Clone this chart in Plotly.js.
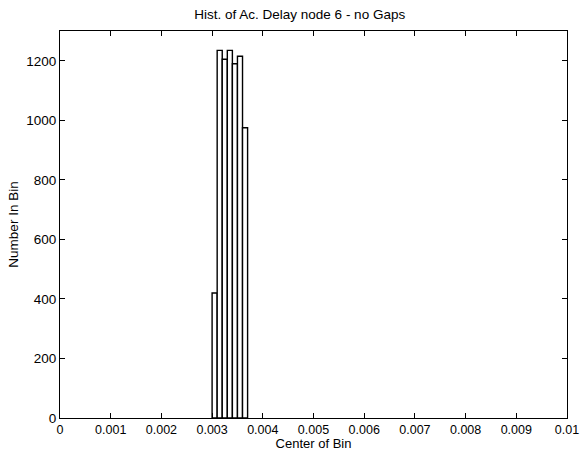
<!DOCTYPE html>
<html>
<head>
<meta charset="utf-8">
<script src="https://cdn.plot.ly/plotly-3.0.1.min.js"></script>
<style>html,body{margin:0;padding:0;background:#fff;}#chart{width:582px;height:451px;}</style>
</head>
<body>
<div id="chart"></div>
<script>
const binCenters = [0.00305, 0.00315, 0.00325, 0.00335, 0.00345, 0.00355, 0.00365];
const binCounts = [420, 1235, 1205, 1235, 1190, 1215, 975];
const xTickVals = [0, 0.001, 0.002, 0.003, 0.004, 0.005, 0.006, 0.007, 0.008, 0.009, 0.01];
const xTickText = ['0', '0.001', '0.002', '0.003', '0.004', '0.005', '0.006', '0.007', '0.008', '0.009', '0.01'];
const yTickVals = [0, 200, 400, 600, 800, 1000, 1200];

const font = {family: 'Liberation Sans, Arial, sans-serif', size: 13.5, color: '#000'};
const xtickfont = {family: font.family, size: 12.5, color: '#000'};
const xtitlefont = {family: font.family, size: 13, color: '#000'};

Plotly.newPlot('chart', [{
  type: 'bar',
  x: binCenters,
  y: binCounts,
  width: 0.0001,
  marker: {color: '#fff', line: {color: '#000', width: 1.4}},
  hoverinfo: 'x+y'
}], {
  width: 582, height: 451,
  margin: {l: 60, r: 15, t: 31, b: 33},
  paper_bgcolor: '#fff', plot_bgcolor: '#fff',
  font: font,
  showlegend: false,
  title: {text: 'Hist. of Ac. Delay node 6 - no Gaps', font: {family: font.family, size: 13.5, color: '#000'}, x: 0.515, xanchor: 'center', y: 0.968, yanchor: 'middle'},
  xaxis: {
    range: [0, 0.01], tickvals: xTickVals, ticktext: xTickText,
    ticks: 'inside', ticklen: 5, tickcolor: '#000', tickwidth: 1,
    showline: true, linecolor: '#000', linewidth: 1, mirror: 'ticks',
    showgrid: false, zeroline: false, tickfont: xtickfont, automargin: false,
    title: {text: 'Center of Bin', font: xtitlefont}
  },
  yaxis: {
    range: [0, 1300], tickvals: yTickVals,
    ticks: 'inside', ticklen: 5, tickcolor: '#000', tickwidth: 1,
    showline: true, linecolor: '#000', linewidth: 1, mirror: 'ticks',
    showgrid: false, zeroline: false, tickfont: font,
    title: {text: 'Number In Bin', font: font, standoff: 4}
  }
}, {displayModeBar: false, staticPlot: true});
</script>
</body>
</html>
